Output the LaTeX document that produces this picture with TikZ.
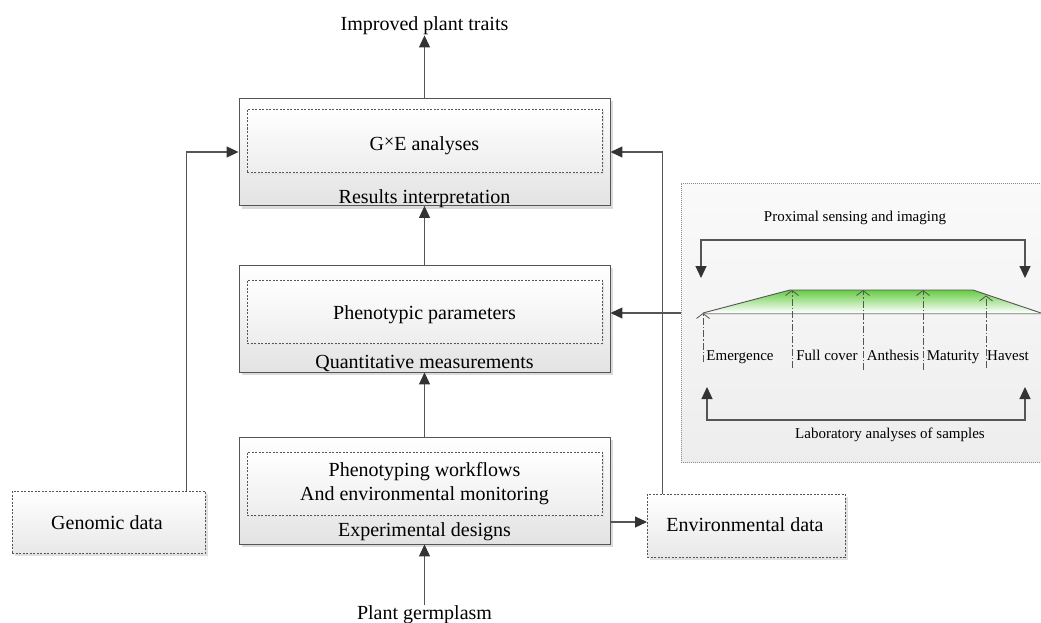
\documentclass[tikz,border=0pt]{standalone}
\usepackage{fontspec}
\setmainfont{Liberation Serif}
\usetikzlibrary{arrows.meta,shadows,calc}
\definecolor{ln}{HTML}{555555}
\definecolor{ah}{HTML}{333333}
\definecolor{leaf}{HTML}{66CC44}
\begin{document}
\begin{tikzpicture}[x=1pt,y=-1pt,
  big/.style={font=\fontsize{20}{22}\selectfont, inner sep=0pt},
  small/.style={font=\fontsize{15}{17}\selectfont, inner sep=0pt},
  outerbox/.style={draw=ln, line width=0.9pt, top color=white, bottom color=black!11,
    drop shadow={shadow xshift=3pt,shadow yshift=-3pt,fill=black!14,opacity=1},
    minimum width=371pt, minimum height=107pt, inner sep=0pt},
  innerbox/.style={draw=ln, line width=0.7pt, dash pattern=on 2pt off 1.5pt,
    top color=white, bottom color=black!7,
    drop shadow={shadow xshift=2pt,shadow yshift=-2pt,fill=black!10,opacity=1},
    minimum width=355pt, minimum height=63pt, inner sep=0pt},
  databox/.style={draw=ln, line width=0.7pt, dash pattern=on 2pt off 1.5pt,
    top color=white, bottom color=black!9,
    drop shadow={shadow xshift=3pt,shadow yshift=-3pt,fill=black!12,opacity=1},
    inner sep=0pt},
  panelbox/.style={draw=black!45, line width=0.8pt, dash pattern=on 1pt off 1pt,
    top color=black!2, bottom color=black!7,
    minimum width=360pt, minimum height=279pt, inner sep=0pt},
  arr/.style={draw=ln, line width=1.1pt, -{Triangle[length=12pt,width=11pt,color=ah]}},
  arrboth/.style={draw=ln, line width=1.1pt, {Triangle[length=12pt,width=11pt,color=ah]}-{Triangle[length=12pt,width=11pt,color=ah]}},
  stage/.style={draw=ln, line width=0.8pt, dash pattern=on 7pt off 2pt on 1.5pt off 2pt,
    -{Straight Barb[length=5pt,width=13pt,line width=0.8pt]}},
]
\useasboundingbox (0,0) rectangle (1041,623);

% right panel
\node[panelbox] (panel) at (861,322.5) {};

% main boxes
\node[outerbox] (topbox) at (424.5,152) {};
\node[innerbox] (topin) at (424.5,141) {};
\node[outerbox] (midbox) at (424.5,318.5) {};
\node[innerbox] (midin) at (424.5,311.5) {};
\node[outerbox] (botbox) at (424.5,490.5) {};
\node[innerbox] (botin) at (424.5,483.5) {};

\node[databox, minimum width=193pt, minimum height=62pt] (gen) at (108.5,522) {};
\node[databox, minimum width=198pt, minimum height=63pt] (env) at (746,525.5) {};

% texts
\node[big, anchor=base] (imp) at (424.5,31) {Improved plant traits};
\node[big, anchor=base] (gxe) at (424.5,150) {G\raisebox{2.5pt}{\fontsize{18}{18}\selectfont ×}E analyses};
\node[big, anchor=base] (resint) at (424.5,203) {Results interpretation};
\node[big, anchor=base] (phen) at (424.5,319) {Phenotypic parameters};
\node[big, anchor=base] (quant) at (424.5,368) {Quantitative measurements};
\node[big, anchor=base] (wf1) at (424.5,476) {Phenotyping workflows};
\node[big, anchor=base] (wf2) at (424.5,500) {And environmental monitoring};
\node[big, anchor=base] (expd) at (424.5,536) {Experimental designs};
\node[big, anchor=base] (germ) at (424.5,619) {Plant germplasm};
\node[big, anchor=base] (gent) at (107,529) {Genomic data};
\node[big, anchor=base] (envt) at (745,531) {Environmental data};

% vertical flow
\draw[arr] (topbox.north) -- (imp.south);
\draw[arr] (midbox.north) -- (topbox.south);
\draw[arr] (botbox.north) -- (midbox.south);
\draw[arr] (germ.north) -- (botbox.south);

% side inputs
\draw[arr] ([xshift=-19pt]gen.north east) |- (topbox.west);
\draw[arr] ([xshift=16pt]env.north west) |- (topbox.east);
\coordinate (envin) at (647,522);
\draw[arr] (botbox.east |- envin) -- (envin);

% crop growth curve
\coordinate (b0) at (703,313);
\coordinate (t1) at (790,290);
\coordinate (t2) at (973,290);
\coordinate (b1) at (1041,313);
\fill[black!12] ([yshift=-2pt]b0) -- ([yshift=-2pt]b1) -- ([yshift=-1pt]b1) -- ([yshift=-1pt]b0) -- cycle;
\path[top color=leaf, middle color=leaf!55!white, bottom color=white] (b0) -- (t1) -- (t2) -- (b1) -- cycle;
\draw[ln, line width=0.9pt] (b0) -- (t1) -- (t2) -- (b1);
\draw[black!35, line width=0.8pt] (b0) -- (b1);

\draw[arr] (panel.west |- b0) -- (midbox.east |- b0);

% stage arrows
\draw[stage] (703,362) -- (703,313);
\draw[stage] (792,368) -- (792,290);
\draw[stage] (863,370) -- (863,290);
\draw[stage] (923,370) -- (923,290);
\draw[stage] (986,368) -- (986,295.5);

\node[small, anchor=base] (s1) at (740,360) {Emergence};
\node[small, anchor=base] (s2) at (827,360) {Full cover};
\node[small, anchor=base] (s3) at (893,360) {Anthesis};
\node[small, anchor=base] (s4) at (953,360) {Maturity};
\node[small, anchor=base] (s5) at (1008,360) {Havest};

% brackets
\node[small, anchor=base] (prox) at (855,221) {Proximal sensing and imaging};
\draw[arrboth] (701,278) -- (701,240) -- (1025,240) -- (1025,278);
\draw[arrboth] (707,387) -- (707,420) -- (1025,420) -- (1025,387);
\node[small, anchor=base] (lab) at (890,438) {Laboratory analyses of samples};
\end{tikzpicture}
\end{document}
